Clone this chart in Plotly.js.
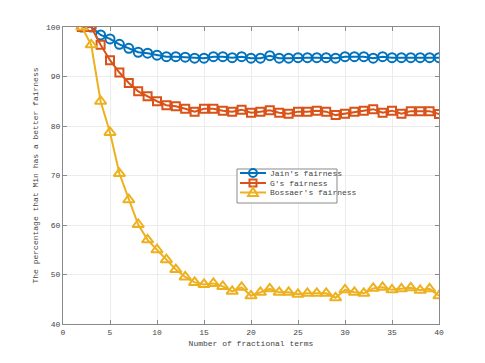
<!DOCTYPE html>
<html>
<head>
<meta charset="utf-8">
<script src="https://cdn.plot.ly/plotly-3.0.1.min.js"></script>
<style>html,body{margin:0;padding:0;background:#fff;}#chart{width:485px;height:363px;}</style>
</head>
<body>
<div id="chart"></div>
<script>
const terms = [2,3,4,5,6,7,8,9,10,11,12,13,14,15,16,17,18,19,20,21,22,23,24,25,26,27,28,29,30,31,32,33,34,35,36,37,38,39,40];
const jain = [100,100,98.4,97.6,96.5,95.7,94.9,94.7,94.3,94.0,94.0,93.9,93.7,93.7,94.0,94.0,93.8,94.0,93.7,
              93.7,94.2,93.7,93.7,93.8,93.8,93.8,93.8,93.7,94.0,94.0,94.0,93.7,94.0,93.8,93.8,93.8,93.8,93.8,93.8];
const gFair = [100,100,96.4,93.3,90.8,88.7,87.0,86.0,85.0,84.2,84.0,83.5,82.9,83.5,83.5,83.1,82.9,83.3,82.7,
               82.9,83.2,82.7,82.5,82.9,82.9,83.1,82.9,82.2,82.5,82.9,83.1,83.4,82.7,83.1,82.5,83.0,83.0,83.0,82.4];
const bossaer = [100,96.4,85.0,78.7,70.4,65.1,60.1,57.0,55.0,53.0,51.0,49.5,48.4,48.0,48.2,47.6,46.6,47.4,45.7,
                 46.4,47.1,46.4,46.4,46.0,46.2,46.2,46.2,45.3,46.9,46.4,46.2,47.2,47.4,46.9,47.1,47.3,46.8,47.1,45.7];
const seriesNames = ["Jain's fairness", "G's fairness", "Bossaer's fairness"];
const xTicks = [0,5,10,15,20,25,30,35,40];
const yTicks = [40,50,60,70,80,90,100];

const colors = ['#0072BD', '#D95319', '#EDB120'];
const symbols = ['circle-open', 'square-open', 'triangle-up-open'];
const sizes = [9, 8, 10];
const ys = [jain, gFair, bossaer];

const traces = ys.map((y, i) => ({
  x: terms, y: y, name: seriesNames[i], type: 'scatter', mode: 'lines+markers',
  showlegend: false,
  line: {color: colors[i], width: 2},
  marker: {symbol: symbols[i], size: sizes[i], color: colors[i], line: {color: colors[i], width: 2}}
}));

const font = {family: '"Liberation Mono", "DejaVu Sans Mono", monospace', size: 8, color: '#444'};
const axisCommon = {
  showline: true, linecolor: '#8a8a8a', linewidth: 1, mirror: 'ticks',
  ticks: 'inside', ticklen: 4, tickcolor: '#8a8a8a', tickwidth: 1,
  showgrid: true, gridcolor: '#ececec', gridwidth: 1, zeroline: false,
  tickfont: font
};

// compact MATLAB-style legend (paper coordinates)
const lg = {x0: 0.4628, x1: 0.7287, y0: 0.4074, y1: 0.5219,
            lineX0: 0.4707, lineX1: 0.5399, markX: 0.5053, textX: 0.5479,
            rows: [0.5084, 0.4747, 0.4428]};
const shapes = [{
  type: 'rect', xref: 'paper', yref: 'paper', x0: lg.x0, x1: lg.x1, y0: lg.y0, y1: lg.y1,
  fillcolor: '#fff', line: {color: '#8a8a8a', width: 1}, layer: 'above'
}];
const annotations = [];
seriesNames.forEach((name, i) => {
  const ry = lg.rows[i];
  shapes.push({type: 'line', xref: 'paper', yref: 'paper', x0: lg.lineX0, x1: lg.lineX1, y0: ry, y1: ry,
               line: {color: colors[i], width: 2}, layer: 'above'});
  const base = {xref: 'paper', yref: 'paper', xsizemode: 'pixel', ysizemode: 'pixel',
                xanchor: lg.markX, yanchor: ry, line: {color: colors[i], width: 2}, layer: 'above'};
  if (i === 0) shapes.push(Object.assign({type: 'circle', x0: -4, x1: 4, y0: -4, y1: 4}, base));
  if (i === 1) shapes.push(Object.assign({type: 'rect', x0: -3.5, x1: 3.5, y0: -3.5, y1: 3.5}, base));
  if (i === 2) shapes.push(Object.assign({type: 'path', path: 'M -5,-3.5 L 5,-3.5 L 0,5 Z'}, base));
  annotations.push({xref: 'paper', yref: 'paper', x: lg.textX, y: ry, xanchor: 'left', yanchor: 'middle',
                    text: name, showarrow: false, font: font, borderpad: 0});
});

const layout = {
  width: 485, height: 363,
  margin: {l: 63, r: 46, t: 27, b: 39, pad: 0},
  paper_bgcolor: '#fff', plot_bgcolor: '#fff',
  font: font,
  showlegend: false,
  xaxis: Object.assign({}, axisCommon, {
    range: [0, 40], tickvals: xTicks, ticktext: xTicks.map(String),
    title: {text: 'Number of fractional terms', font: font, standoff: 4}
  }),
  yaxis: Object.assign({}, axisCommon, {
    range: [40, 100], tickvals: yTicks, ticktext: yTicks.map(String),
    title: {text: 'The percentage that Min has a better fairness', font: font, standoff: 6}
  }),
  shapes: shapes,
  annotations: annotations
};

Plotly.newPlot('chart', traces, layout, {displayModeBar: false, staticPlot: true});
</script>
</body>
</html>
